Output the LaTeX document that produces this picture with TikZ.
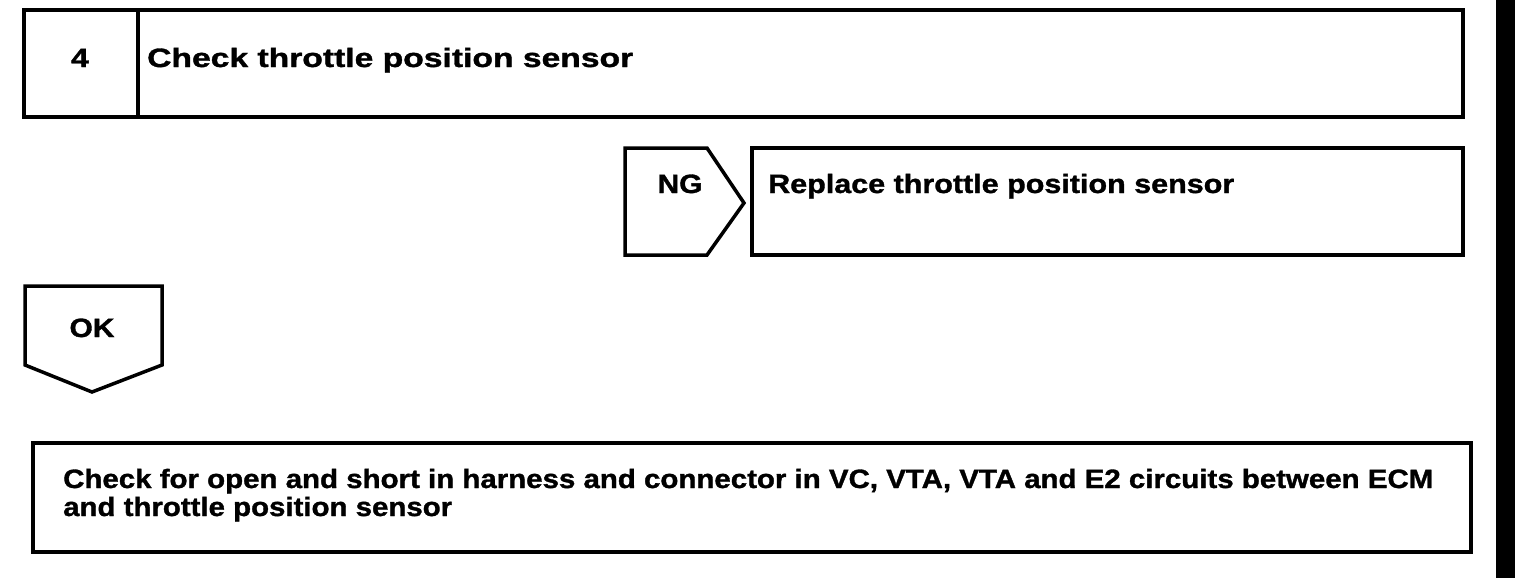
\documentclass[tikz,border=0pt]{standalone}
\usepackage{fontspec}
\usepackage{graphicx}
\setmainfont{Liberation Sans}[BoldFeatures={FakeBold=1.2}]
\newcommand{\fitw}[2]{\resizebox{#1}{\height}{#2}}
\begin{document}
\begin{tikzpicture}[x=1pt,y=-1pt]
\tikzset{
  frame/.style={draw, line width=3.5pt, line join=miter},
  lbl/.style={font=\bfseries\fontsize{26.5}{30}\selectfont, inner sep=0pt, anchor=base west},
  lblc/.style={lbl, anchor=base},
}
\useasboundingbox (0,0) rectangle (1520,578);
\fill (1496,0) rectangle (1515,578);
% step 4 box
\draw[frame] (24,10) rectangle (1463,117);
\draw[frame] (138,10) -- (138,117);
\node[lblc] (num) at (80,67) {\scalebox{1.2}[1]{4}};
\node[lbl] (t1) at (147,67) {\fitw{486pt}{Check throttle position sensor}};
% NG
\draw[frame] (625,148) -- (707,148) -- (744,203) -- (707,255) -- (625,255) -- cycle;
\node[lblc] (ng) at (680,193) {\fitw{45pt}{NG}};
\draw[frame] (752,148) rectangle (1463,255);
\node[lbl] (t2) at (768,193) {\fitw{466pt}{Replace throttle position sensor}};
% OK
\draw[frame] (25,286) -- (162,286) -- (162,365) -- (92,392) -- (25,365) -- cycle;
\node[lblc] (ok) at (92,337) {\fitw{45pt}{OK}};
% bottom box
\node[lbl] (t3a) at (63,488) {\fitw{1370pt}{Check for open and short in harness and connector in VC, VTA, VTA and E2 circuits between ECM}};
\node[lbl] (t3b) at (63,516) {\scalebox{1.11}[1]{and throttle position sensor}};
\draw[frame] (33,443) rectangle (1471,552);
\end{tikzpicture}
\end{document}
